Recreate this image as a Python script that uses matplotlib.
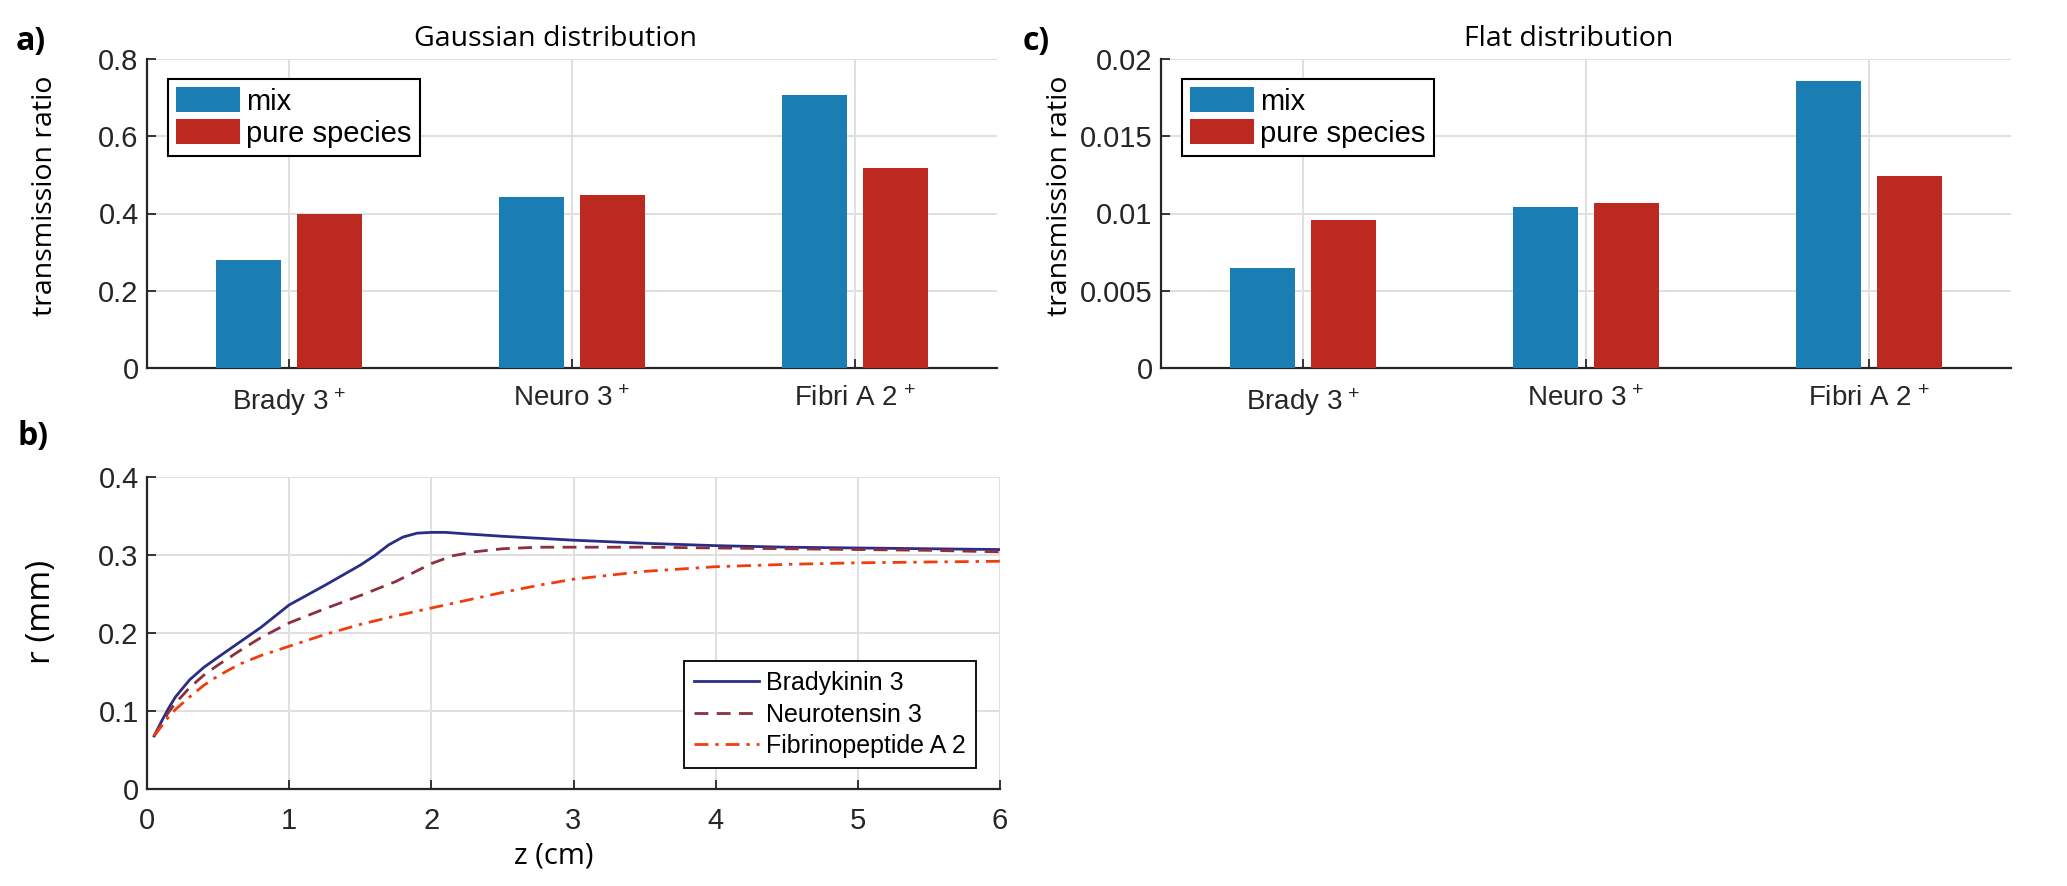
import numpy as np
import matplotlib
matplotlib.use('Agg')
import matplotlib.pyplot as plt
from matplotlib.ticker import FuncFormatter

plt.rcParams['font.family'] = ['Liberation Sans', 'DejaVu Sans']
plt.rcParams['mathtext.fontset'] = 'custom'
plt.rcParams['mathtext.rm'] = 'Liberation Sans'
plt.rcParams['mathtext.it'] = 'Liberation Sans'

# datos de las barras
especies = ['Brady 3$^{\\,+}$', 'Neuro 3$^{\\,+}$', 'Fibri A 2$^{\\,+}$']
gauss_mix = [0.280, 0.443, 0.708]
gauss_pura = [0.400, 0.447, 0.517]
plana_mix = [0.0065, 0.0104, 0.0186]
plana_pura = [0.0096, 0.0107, 0.0124]

# radio del haz vs z
z_brady = [0.05, 0.1, 0.15, 0.2, 0.3, 0.4, 0.5, 0.65, 0.8, 1.0, 1.25, 1.5, 1.6, 1.7, 1.8, 1.9, 2.0, 2.1, 2.25, 2.5, 3.0, 3.5, 4.0, 4.5, 5.0, 5.5, 6.0]
r_brady = [0.068, 0.086, 0.103, 0.118, 0.140, 0.156, 0.169, 0.188, 0.207, 0.236, 0.261, 0.287, 0.299, 0.313, 0.323, 0.328, 0.329, 0.329, 0.327, 0.324, 0.319, 0.315, 0.312, 0.310, 0.309, 0.308, 0.307]
z_neuro = [0.05, 0.1, 0.15, 0.2, 0.3, 0.4, 0.5, 0.65, 0.8, 1.0, 1.25, 1.5, 1.75, 2.0, 2.15, 2.3, 2.5, 2.75, 3.0, 3.5, 4.0, 4.5, 5.0, 5.5, 6.0]
r_neuro = [0.068, 0.083, 0.098, 0.110, 0.130, 0.146, 0.159, 0.177, 0.194, 0.213, 0.231, 0.248, 0.266, 0.289, 0.299, 0.304, 0.308, 0.310, 0.310, 0.310, 0.309, 0.308, 0.307, 0.306, 0.304]
z_fibri = [0.05, 0.1, 0.15, 0.2, 0.3, 0.4, 0.5, 0.65, 0.8, 1.0, 1.25, 1.5, 1.75, 2.0, 2.25, 2.5, 2.75, 3.0, 3.5, 4.0, 4.5, 5.0, 5.5, 6.0]
r_fibri = [0.068, 0.080, 0.092, 0.102, 0.118, 0.133, 0.145, 0.160, 0.171, 0.183, 0.198, 0.211, 0.222, 0.232, 0.242, 0.252, 0.261, 0.269, 0.279, 0.285, 0.288, 0.290, 0.291, 0.292]

azul = '#1a7eb4'
rojo = '#bc2921'
oscuro = '#262626'
rejilla = '#e0e0e0'
titulo_fuente = ['Open Sans', 'DejaVu Sans']

fig = plt.figure(figsize=(20.67, 8.86), dpi=100)
W, H = 2067, 886

def caja(x0, y0, x1, y1):
    return [x0 / W, 1 - y1 / H, (x1 - x0) / W, (y1 - y0) / H]

def estilo(ax):
    for s in ['top', 'right']:
        ax.spines[s].set_visible(False)
    for s in ['left', 'bottom']:
        ax.spines[s].set_color(oscuro)
        ax.spines[s].set_linewidth(1.6)
    ax.tick_params(direction='in', length=6.5, width=1.3, color=oscuro,
                   labelcolor=oscuro)
    ax.tick_params(axis='x', pad=13, labelsize=20)
    ax.tick_params(axis='y', pad=6, labelsize=21)
    ax.grid(True, color=rejilla, linewidth=1.4)
    ax.set_axisbelow(True)

fmt = FuncFormatter(lambda v, p: '%g' % round(v, 6))

def barras(ax, mix, pura, ymax, paso):
    x = np.arange(1, len(especies) + 1)
    ax.bar(x - 0.143, mix, 0.23, color=azul, label='mix', zorder=3)
    ax.bar(x + 0.143, pura, 0.23, color=rojo, label='pure species', zorder=3)
    ax.set_xlim(0.5, 3.5)
    ax.set_ylim(0, ymax)
    ax.set_xticks(x)
    ax.set_xticklabels(especies)
    ax.set_yticks(np.arange(0, ymax + paso / 2, paso))
    ax.yaxis.set_major_formatter(fmt)
    estilo(ax)
    leg = ax.legend(loc='upper left', bbox_to_anchor=(21 / 850, 1 - 20 / 309),
                    borderaxespad=0, fontsize=21, fancybox=False,
                    edgecolor='black', framealpha=1, handlelength=2.2,
                    handleheight=0.95, handletextpad=0.2, labelspacing=0.12,
                    borderpad=0.28)
    leg.get_frame().set_linewidth(1.5)

ax_a = fig.add_axes(caja(147, 59, 997, 368))
barras(ax_a, gauss_mix, gauss_pura, 0.8, 0.2)
ax_a.set_ylabel('transmission ratio', fontsize=20.5, family=titulo_fuente)
ax_a.yaxis.set_label_coords((59 - 147) / 850, 0.557)

ax_c = fig.add_axes(caja(1161, 59, 2011, 368))
barras(ax_c, plana_mix, plana_pura, 0.02, 0.005)
ax_c.set_ylabel('transmission ratio', fontsize=20.5, family=titulo_fuente)
ax_c.yaxis.set_label_coords((1074 - 1161) / 850, 0.557)

fig.text(555 / W, 1 - 46 / H, 'Gaussian distribution', ha='center', va='baseline',
         fontsize=20.5, family=titulo_fuente, color='black')
fig.text(1569 / W, 1 - 46 / H, 'Flat distribution', ha='center', va='baseline',
         fontsize=20.5, family=titulo_fuente, color='black')

ax_b = fig.add_axes(caja(147, 477, 1000, 789))
ax_b.plot(z_brady, r_brady, '-', color='#2a2d86', lw=2.0, label='Bradykinin 3')
ax_b.plot(z_neuro, r_neuro, '--', color='#8c3040', lw=2.0, dashes=(5, 3), label='Neurotensin 3')
ax_b.plot(z_fibri, r_fibri, '-.', color='#f23c0e', lw=2.0, dashes=(5, 2.5, 1.2, 2.5), label='Fibrinopeptide A 2')
ax_b.set_xlim(0, 6)
ax_b.set_ylim(0, 0.4)
ax_b.set_xticks(range(0, 7))
ax_b.set_yticks(np.arange(0, 0.41, 0.1))
ax_b.yaxis.set_major_formatter(fmt)
estilo(ax_b)
ax_b.tick_params(axis='x', labelsize=21)
ax_b.set_ylabel('r (mm)', fontsize=24, family=titulo_fuente)
ax_b.yaxis.set_label_coords((58 - 147) / 853, 0.567)
ax_b.set_xlabel('z (cm)', fontsize=21, family=titulo_fuente)
ax_b.xaxis.set_label_coords((554 - 147) / 853, -0.167)
leg = ax_b.legend(loc='lower right', bbox_to_anchor=(1 - 24 / 853, 21 / 312),
                  borderaxespad=0, fontsize=18, fancybox=False, edgecolor='black',
                  framealpha=1, handlelength=2.6, handletextpad=0.3,
                  labelspacing=0.3, borderpad=0.4)
leg.get_frame().set_linewidth(1.3)

# letras de los paneles
for letra, x, y in [('a)', 16, 50), ('c)', 1023, 50), ('b)', 18, 445)]:
    fig.text(x / W, 1 - y / H, letra, fontsize=23, fontweight='bold',
             family=titulo_fuente, va='baseline')

fig.savefig('out.png', dpi=100)
